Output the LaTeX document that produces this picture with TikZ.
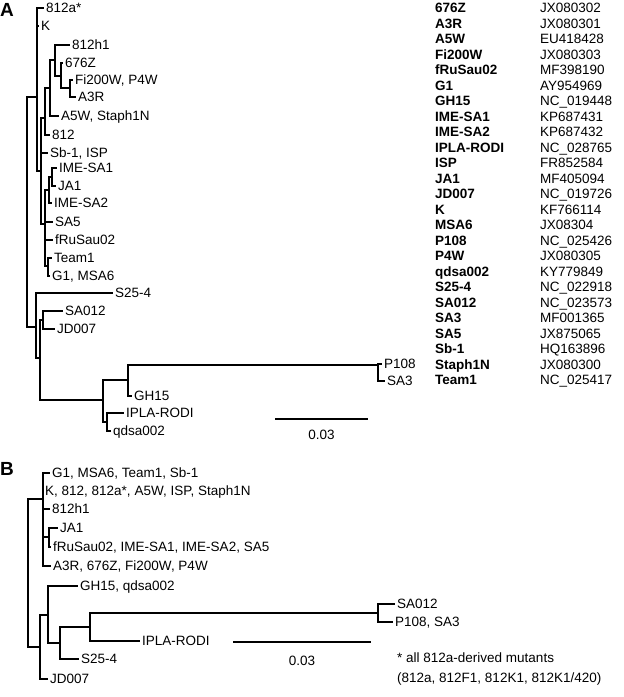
\documentclass[tikz,border=0pt]{standalone}
\usepackage{fontspec}
\setmainfont{Liberation Sans}
\begin{document}
\begin{tikzpicture}[x=1pt,y=-1pt,
  br/.style={line width=1.9pt, line cap=rect},
  sbar/.style={line width=2.4pt},
  lab/.style={anchor=west, inner xsep=3pt, inner ysep=0pt, text height=10.2pt, text depth=0.5pt, font=\fontsize{13.5}{15}\selectfont},
  txt/.style={anchor=west, inner sep=0pt, text height=10.2pt, text depth=0.5pt, font=\fontsize{13.5}{15}\selectfont},
  ctxt/.style={inner sep=0pt, text height=10.2pt, text depth=0.5pt, font=\fontsize{13.5}{15}\selectfont},
  panel/.style={anchor=west, inner sep=0pt, font=\fontsize{19}{21}\selectfont\bfseries}]
\useasboundingbox (0,0) rectangle (624,697);

% ---------- Panel A ----------
\node[panel] (pA) at (0,10) {A};
% internal nodes
\coordinate (R) at (27,212);
\coordinate (TA) at (37,97);
\coordinate (f) at (41,171);
\coordinate (e) at (45,118);
\coordinate (d) at (50,88);
\coordinate (c) at (55,60);
\coordinate (b) at (61,76);
\coordinate (a) at (70,88);
\coordinate (j) at (45,224);
\coordinate (h) at (49,190);
\coordinate (g) at (52,177);
\coordinate (k) at (48,266);
\coordinate (m) at (36,327);
\coordinate (n) at (40,358);
\coordinate (o) at (43,320);
\coordinate (p) at (103,400);
\coordinate (q) at (128,380);
\coordinate (s) at (378,365);
\coordinate (r) at (107,422);
% leaves
\node[lab] (a812a) at (43,8) {812a*};
\node[lab] (aK) at (38,26) {K};
\node[lab] (a812h1) at (69,45) {812h1};
\node[lab] (a676Z) at (62,63) {676Z};
\node[lab] (aFi) at (72,80) {Fi200W, P4W};
\node[lab] (aA3R) at (75,97) {A3R};
\node[lab] (aA5W) at (58,116) {A5W, Staph1N};
\node[lab] (a812) at (49,135) {812};
\node[lab] (aSb) at (47,153) {Sb-1, ISP};
\node[lab] (aIME1) at (56,168) {IME-SA1};
\node[lab] (aJA1) at (55,186) {JA1};
\node[lab] (aIME2) at (51,203) {IME-SA2};
\node[lab] (aSA5) at (52,222) {SA5};
\node[lab] (afRu) at (52,240) {fRuSau02};
\node[lab] (aTeam) at (51,258) {Team1};
\node[lab] (aG1) at (49,276) {G1, MSA6};
\node[lab] (aS25) at (112,293) {S25-4};
\node[lab] (aSA012) at (62,311) {SA012};
\node[lab] (aJD) at (54,329) {JD007};
\node[lab] (aP108) at (381,364) {P108};
\node[lab] (aSA3) at (384,381) {SA3};
\node[lab] (aGH15) at (131,396) {GH15};
\node[lab] (aIPLA) at (123,413) {IPLA-RODI};
\node[lab] (aqdsa) at (110,431) {qdsa002};
% edges
\draw[br] (R) |- (TA);  \draw[br] (R) |- (m);
\draw[br] (TA) |- (a812a); \draw[br] (TA) |- (aK); \draw[br] (TA) |- (f);
\draw[br] (f) |- (e); \draw[br] (f) |- (aSb); \draw[br] (f) |- (j);
\draw[br] (e) |- (d); \draw[br] (e) |- (a812);
\draw[br] (d) |- (c); \draw[br] (d) |- (aA5W);
\draw[br] (c) |- (a812h1); \draw[br] (c) |- (b);
\draw[br] (b) |- (a676Z); \draw[br] (b) |- (a);
\draw[br] (a) |- (aFi); \draw[br] (a) |- (aA3R);
\draw[br] (j) |- (h); \draw[br] (j) |- (aSA5); \draw[br] (j) |- (afRu); \draw[br] (j) |- (k);
\draw[br] (h) |- (g); \draw[br] (h) |- (aIME2);
\draw[br] (g) |- (aIME1); \draw[br] (g) |- (aJA1);
\draw[br] (k) |- (aTeam); \draw[br] (k) |- (aG1);
\draw[br] (m) |- (aS25); \draw[br] (m) |- (n);
\draw[br] (n) |- (o); \draw[br] (n) |- (p);
\draw[br] (o) |- (aSA012); \draw[br] (o) |- (aJD);
\draw[br] (p) |- (q); \draw[br] (p) |- (r);
\draw[br] (q) |- (s); \draw[br] (q) |- (aGH15);
\draw[br] (s) |- (aP108); \draw[br] (s) |- (aSA3);
\draw[br] (r) |- (aIPLA); \draw[br] (r) |- (aqdsa);
% scale bar A
\coordinate (sa1) at (275,419);
\coordinate (sa2) at (368,419);
\draw[sbar] (sa1) -- (sa2);
\node[ctxt] (saL) at (321.5,435) {0.03};

% table
\foreach \nm/\ac [count=\i from 0] in {676Z/JX080302, A3R/JX080301, A5W/EU418428, Fi200W/JX080303, fRuSau02/MF398190, G1/AY954969, GH15/NC\_019448, IME-SA1/KP687431, IME-SA2/KP687432, IPLA-RODI/NC\_028765, ISP/FR852584, JA1/MF405094, JD007/NC\_019726, K/KF766114, MSA6/JX08304, P108/NC\_025426, P4W/JX080305, qdsa002/KY779849, S25-4/NC\_022918, SA012/NC\_023573, SA3/MF001365, SA5/JX875065, Sb-1/HQ163896, Staph1N/JX080300, Team1/NC\_025417}{
  \node[txt] (tn\i) at (435, 8+15.5*\i) {\textbf{\nm}};
  \node[txt] (ta\i) at (540, 8+15.5*\i) {\ac};
}

% ---------- Panel B ----------
\node[panel] (pB) at (0,469) {B};
\coordinate (RB) at (28,573);
\coordinate (TB) at (43,499);
\coordinate (jB) at (49,537);
\coordinate (mB) at (40,647);
\coordinate (t) at (48,615);
\coordinate (u) at (60,643);
\coordinate (v) at (90,627);
\coordinate (w) at (378,613);
\node[lab] (bG1) at (49,473) {G1, MSA6, Team1, Sb-1};
\node[lab, inner xsep=2pt] (bK) at (43,491) {K, 812, 812a*, A5W, ISP, Staph1N};
\node[lab] (b812h1) at (49,509) {812h1};
\node[lab] (bJA1) at (57,528) {JA1};
\node[lab] (bfRu) at (50,547) {fRuSau02, IME-SA1, IME-SA2, SA5};
\node[lab] (bA3R) at (50,566) {A3R, 676Z, Fi200W, P4W};
\node[lab] (bGH) at (77,586) {GH15, qdsa002};
\node[lab] (bSA012) at (394,604) {SA012};
\node[lab] (bP108) at (392,622) {P108, SA3};
\node[lab] (bIPLA) at (139,641) {IPLA-RODI};
\node[lab] (bS25) at (78,659) {S25-4};
\node[lab] (bJD) at (47,679) {JD007};
\draw[br] (RB) |- (TB); \draw[br] (RB) |- (mB);
\draw[br] (TB) |- (bG1); \draw[br] (TB) |- (bK); \draw[br] (TB) |- (b812h1); \draw[br] (TB) |- (jB); \draw[br] (TB) |- (bA3R);
\draw[br] (jB) |- (bJA1); \draw[br] (jB) |- (bfRu);
\draw[br] (mB) |- (t); \draw[br] (mB) |- (bJD);
\draw[br] (t) |- (bGH); \draw[br] (t) |- (u);
\draw[br] (u) |- (v); \draw[br] (u) |- (bS25);
\draw[br] (v) |- (w); \draw[br] (v) |- (bIPLA);
\draw[br] (w) |- (bSA012); \draw[br] (w) |- (bP108);
% scale bar B
\coordinate (sb1) at (233,642);
\coordinate (sb2) at (371,642);
\draw[sbar] (sb1) -- (sb2);
\node[ctxt] (sbL) at (302,661) {0.03};
% footnote
\node[txt] (fn1) at (397,658) {* all 812a-derived mutants};
\node[txt] (fn2) at (397,678) {(812a, 812F1, 812K1, 812K1/420)};
\end{tikzpicture}
\end{document}
